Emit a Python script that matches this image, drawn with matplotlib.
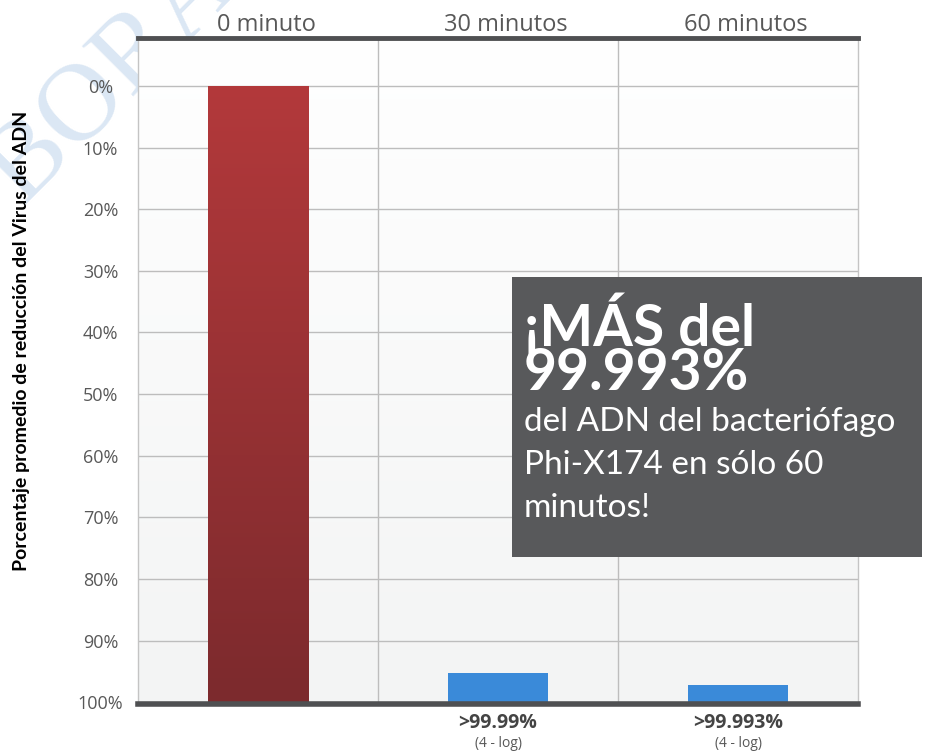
import numpy as np
import matplotlib.pyplot as plt
from matplotlib.colors import LinearSegmentedColormap
from matplotlib.transforms import ScaledTranslation

# ── data ──────────────────────────────────────────────────────────────
categories = ["0 minuto", "30 minutos", "60 minutos"]
bar_top = [0.0, 95.3, 97.2]          # level each bar reaches (inverted % scale)
bar_colors = ["#a53537", "#3a8ad9", "#3a8ad9"]
bottom_labels = ["", ">99.99%", ">99.993%"]
bottom_sub = ["", "(4 - log)", "(4 - log)"]
yticks = [0, 10, 20, 30, 40, 50, 60, 70, 80, 90, 100]

DARK = "#4f5052"
GREY_TXT = "#585858"
BOX = "#58595b"
YLIM = (100.3, -7.8)

fig = plt.figure(figsize=(9.28, 7.54), dpi=100)
fig.patch.set_facecolor("white")
ax = fig.add_axes([0.1487, 0.0663, 0.7759, 0.8833])

x = np.arange(len(categories))

# background gradient (white top -> light grey bottom)
bg = LinearSegmentedColormap.from_list("bg", ["#ffffff", "#f3f4f4"])
ax.imshow(np.linspace(0, 1, 256).reshape(-1, 1), cmap=bg, aspect="auto",
          extent=(-0.5, 2.5, YLIM[0], YLIM[1]), zorder=0)

# grid
for t in yticks[:-1]:
    ax.axhline(t, color="#bdbdbd", lw=1.0, zorder=1)
for xv in [0.5, 1.5]:
    ax.axvline(xv, color="#bdbdbd", lw=1.0, zorder=1)

# bars, standing on the 100% baseline
heights = [100 - t for t in bar_top]
bars = ax.bar(x, heights, bottom=bar_top, width=0.42, color=bar_colors,
              zorder=3, linewidth=0)

# red gradient on the first bar
red = LinearSegmentedColormap.from_list("red", ["#b3393b", "#7c2a2d"])
b0 = bars[0]
im = ax.imshow(np.linspace(0, 1, 256).reshape(-1, 1), cmap=red, aspect="auto",
               extent=(b0.get_x(), b0.get_x() + b0.get_width(), 100, bar_top[0]),
               zorder=4)
im.set_clip_path(b0)

ax.set_xlim(-0.5, 2.5)
ax.set_ylim(*YLIM)

# spines
for s in ["left", "right"]:
    ax.spines[s].set_color("#c4c4c4")
    ax.spines[s].set_linewidth(1.0)
ax.spines["top"].set_color(DARK)
ax.spines["top"].set_linewidth(3.5)
ax.spines["bottom"].set_color(DARK)
ax.spines["bottom"].set_linewidth(4.0)
ax.spines["top"].set_zorder(6)
ax.spines["bottom"].set_zorder(6)

# y ticks, centred at x ~ 100 px
ax.set_yticks(yticks)
ax.set_yticklabels([f"{t}%" for t in yticks], fontsize=13, color=GREY_TXT,
                   family="Open Sans", ha="center")
ax.tick_params(axis="y", length=0, pad=27)

# column labels on top (nudged a little to the right, like the original)
ax.xaxis.tick_top()
ax.set_xticks(x)
ax.set_xticklabels(categories, fontsize=17, color=GREY_TXT, family="Open Sans")
ax.tick_params(axis="x", length=0, pad=0.5)
for lbl in ax.get_xticklabels():
    lbl.set_transform(lbl.get_transform() + ScaledTranslation(0.08, 0, fig.dpi_scale_trans))

ax.set_ylabel("Porcentaje promedio de reducción del Virus del ADN",
              fontsize=14, fontweight="bold", color="black", family="Lato")
ax.yaxis.set_label_coords(-0.15, 0.545)

# labels under the bars
for xi, lab, sub in zip(x, bottom_labels, bottom_sub):
    if lab:
        ax.text(xi, -0.028, lab, transform=ax.get_xaxis_transform(),
                ha="center", va="center", fontsize=14, fontweight="bold",
                color="#444444", family="Open Sans")
        ax.text(xi, -0.059, sub, transform=ax.get_xaxis_transform(),
                ha="center", va="center", fontsize=10, color=GREY_TXT,
                family="Open Sans")

# callout box
W, H = 928, 754
fig.patches.append(plt.Rectangle((512 / W, 1 - 557 / H), 410 / W, 280 / H,
                                 transform=fig.transFigure, facecolor=BOX,
                                 edgecolor="none", zorder=10))
fig.text(524 / W, 1 - 390 / H, "¡MÁS del\n99.993%", fontsize=41,
         fontweight="bold", linespacing=0.78, color="white", family="Lato",
         va="baseline", ha="left", zorder=11)
fig.text(524 / W, 1 - 517 / H,
         "del ADN del bacteriófago\nPhi-X174 en sólo 60\nminutos!",
         fontsize=24, linespacing=1.55, color="white", family="Lato",
         va="baseline", ha="left", zorder=11)

# faint watermark, behind everything
fig.text(22 / W, 1 - 205 / H, "BORADOR", fontsize=80, family="Liberation Serif",
         color="#dbe7f4", rotation=45, rotation_mode="anchor",
         ha="left", va="baseline", zorder=-1)

fig.savefig("out.png", dpi=100, facecolor="white")
